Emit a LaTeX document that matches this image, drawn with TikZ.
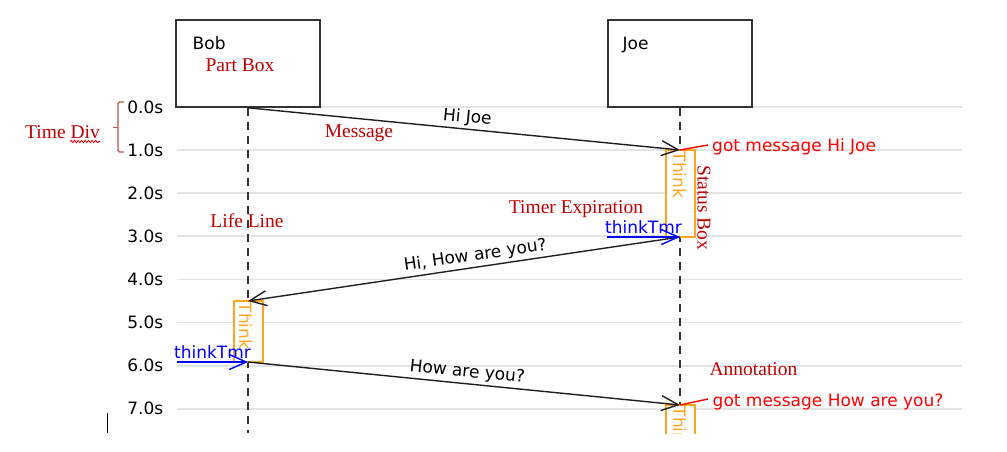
\documentclass[tikz,border=0pt]{standalone}
\usepackage{fontspec}
\setmainfont{Liberation Serif}
\newfontfamily\dvs{DejaVu Sans}
\usetikzlibrary{arrows.meta,decorations.pathmorphing}
\definecolor{annot}{HTML}{C00000}
\definecolor{gridc}{HTML}{E4E4E4}
\definecolor{boxc}{HTML}{333333}
\definecolor{bracec}{HTML}{C0504D}
\definecolor{thinkc}{HTML}{FFA520}
\begin{document}
\begin{tikzpicture}[x=1pt,y=-1pt,
  every node/.style={inner sep=0pt},
  lbl/.style={font=\dvs\fontsize{17}{20}\selectfont},
  note/.style={font=\fontsize{19.5}{23}\selectfont, text=annot},
  partbox/.style={draw=boxc, line width=1.6pt, minimum width=144pt, minimum height=87pt, fill=white},
  gridline/.style={draw=gridc, line width=1.8pt},
  lifeline/.style={draw=boxc, line width=1.5pt, dash pattern=on 8pt off 6pt},
  barb/.style={-{Straight Barb[length=17pt,width=15pt,line width=1.4pt]}},
  msg/.style={draw=black!88, line width=1.4pt, barb},
  tmr/.style={draw=blue, line width=1.4pt, barb},
  thinkbox/.style={draw=thinkc, line width=1.4pt, minimum width=29pt, fill=white},
  thinktxt/.style={lbl, text=thinkc, rotate=-90, anchor=west},
  gotline/.style={draw=red, line width=1.4pt},
  mlabel/.style={lbl, sloped, above, inner sep=2.5pt}
]
\useasboundingbox (0,0) rectangle (1007,452);

% grid lines and time labels
\foreach \i in {0,...,7}{
  \draw[gridline] (177,{107+43.1*\i}) -- (962,{107+43.1*\i});
  \node[lbl, anchor=east] (tl\i) at (163.5,{107+43.1*\i}) {\i.0s};
}

% participant boxes
\node[partbox] (bob) at (248,63.5) {};
\node[partbox] (joe) at (680,63.5) {};
\node[lbl, anchor=base west] (bobname) at (192.5,50) {Bob};
\node[lbl, anchor=base west] (joename) at (622.5,50) {Joe};

% lifelines
\coordinate (bobend) at (248,433);
\coordinate (joeend) at (680,433);
\draw[lifeline] (bob.south) -- (bobend);
\draw[lifeline] (joe.south) -- (joeend);

% points on lifelines
\coordinate (j1) at (680,150);
\coordinate (j3) at (680,237);
\coordinate (b45) at (248,301);
\coordinate (b59) at (248,362);
\coordinate (j69) at (680,405);

% think boxes
\node[thinkbox, minimum height=87pt] (tk1) at (680.5,193.5) {};
\node[thinktxt] (tk1t) at (679.5,151.5) {Think};
\node[thinkbox, minimum height=61pt] (tk2) at (248.5,331.5) {};
\node[thinktxt] (tk2t) at (245.5,302.5) {Think};
\begin{scope}
  \clip (0,0) rectangle (1007,433);
  \node[thinkbox, minimum height=87pt] (tk3) at (680.5,448.5) {};
  \node[thinktxt] (tk3t) at (679.5,406.5) {Think};
\end{scope}

% messages
\draw[msg] (bob.south) -- node[mlabel, pos=0.505] {Hi Joe} (j1);
\draw[msg] (j3) -- node[mlabel, pos=0.47] {Hi, How are you?} (b45);
\draw[msg] (b59) -- node[mlabel, pos=0.505] {How are you?} (j69);

% timers
\coordinate (t1) at (607,237);
\coordinate (t2) at (177,362);
\draw[tmr] (t1) -- node[lbl, above, inner sep=2.5pt, text=blue] {thinkTmr} (j3);
\draw[tmr] (t2) -- node[lbl, above, inner sep=2.5pt, text=blue] {thinkTmr} (b59);

% got message annotations
\coordinate (g1) at (708,145);
\coordinate (g2) at (708,399);
\draw[gotline] (j1) -- (g1);
\draw[gotline] (j69) -- (g2);
\node[lbl, text=red, anchor=base west] (gm1) at (712,151) {got message Hi Joe};
\node[lbl, text=red, anchor=base west] (gm2) at (712.5,406.5) {got message How are you?};

% brace for time division
\draw[bracec, line width=1.3pt, rounded corners=1.5pt] (124,102) -- (118,102) -- (118,152) -- (124,152);
\draw[bracec, line width=1.3pt] (118,127.5) -- (112.5,127.5);

% annotations
\node[note, anchor=base] (n1) at (240,72) {Part Box};
\node[note, anchor=base] (n2) at (62.5,138.5) {Time Div};
\draw[red, line width=0.8pt, decorate, decoration={snake, amplitude=1.2pt, segment length=3.5pt}] (70,141.5) -- (100,141.5);
\node[note, anchor=base] (n3) at (359,137) {Message};
\node[note, anchor=base] (n4) at (247,227) {Life Line};
\node[note, anchor=base] (n5) at (576,213.5) {Timer Expiration};
\node[note, anchor=base] (n6) at (753.5,375.5) {Annotation};
\node[note, rotate=-90, anchor=base west] (n7) at (697.5,165) {Status Box};

% text cursor
\draw[black, line width=0.8pt] (107,413) -- (107,433);
\end{tikzpicture}
\end{document}
